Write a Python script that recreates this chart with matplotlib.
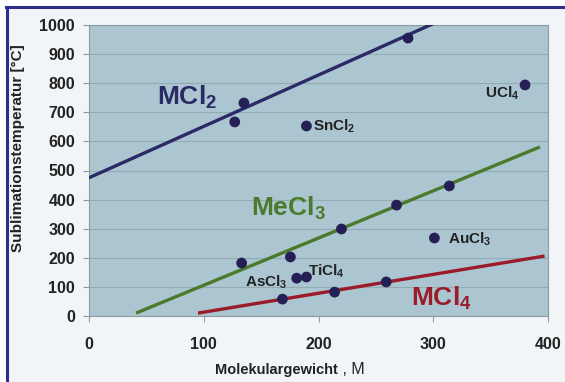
import matplotlib
matplotlib.use("Agg")
import matplotlib.pyplot as plt
from matplotlib.lines import Line2D
from matplotlib.patches import Rectangle

plt.rcParams['font.family'] = ['Liberation Sans', 'DejaVu Sans']
plt.rcParams['mathtext.fontset'] = 'custom'
plt.rcParams['mathtext.rm'] = 'Liberation Sans:bold'
plt.rcParams['mathtext.bf'] = 'Liberation Sans:bold'
plt.rcParams['mathtext.it'] = 'Liberation Sans:bold'
plt.rcParams['mathtext.default'] = 'bf'

# ---- data ----
mcl2_x = [127, 135, 278]
mcl2_y = [667, 732, 955]
mecl3_x = [133, 175.5, 181, 189.5, 220, 268, 314]
mecl3_y = [182, 203, 130, 134, 299, 381, 447]
mcl4_x = [168.6, 214, 259]
mcl4_y = [58, 82, 117]
other_x = [189.5, 380, 301]
other_y = [653, 794, 268]

# fitted trend lines (end points)
mcl2_line_x = [0, 303]
mcl2_line_y = [475, 1010]
mecl3_line_x = [41, 393]
mecl3_line_y = [10, 581]
mcl4_line_x = [95, 397]
mcl4_line_y = [10, 206]

xticks = [0, 100, 200, 300, 400]
yticks = [0, 100, 200, 300, 400, 500, 600, 700, 800, 900, 1000]

# small labels: (text, x, y, ha)
small_labels = [
    ("SnCl$_2$", 195, 653, "left"),
    ("UCl$_4$", 345, 765, "left"),
    ("AuCl$_3$", 313, 262, "left"),
    ("TiCl$_4$", 191, 155, "left"),
    ("AsCl$_3$", 136, 115, "left"),
]
big_labels = [
    ("MCl$_2$", 59, 752, "#2b2a66"),
    ("MeCl$_3$", 141, 371, "#4b7a2c"),
    ("MCl$_4$", 281, 62, "#9b1b2b"),
]

W, H = 565, 382
fig = plt.figure(figsize=(W / 100, H / 100), dpi=100, facecolor="#f1f5f8")
ax = fig.add_axes([89 / W, 1 - 316 / H, (548 - 89) / W, (316 - 25) / H])
ax.set_facecolor("#abc6d0")

ax.set_xlim(0, 400)
ax.set_ylim(0, 1000)
ax.set_xticks(xticks)
ax.set_yticks(yticks)
ax.grid(axis="y", color="#93aab4", lw=0.8)
ax.set_axisbelow(True)
for s in ax.spines.values():
    s.set_color("#8d9ba2")
    s.set_linewidth(0.8)
ax.tick_params(axis="x", length=4, pad=11, color="#8d9ba2", labelsize=11.5)
ax.tick_params(axis="y", length=4, pad=6, color="#8d9ba2", labelsize=11.5)
for lab in ax.get_xticklabels() + ax.get_yticklabels():
    lab.set_fontweight("bold")
    lab.set_color("#222222")

ax.plot(mcl2_line_x, mcl2_line_y, color="#2b2a66", lw=2.4, solid_capstyle="butt", zorder=3)
ax.plot(mecl3_line_x, mecl3_line_y, color="#4b7a2c", lw=2.4, solid_capstyle="butt", zorder=3)
ax.plot(mcl4_line_x, mcl4_line_y, color="#9b1b2b", lw=2.4, solid_capstyle="butt", zorder=3)

pc = "#251f55"
for xs, ys in [(mcl2_x, mcl2_y), (mecl3_x, mecl3_y), (mcl4_x, mcl4_y), (other_x, other_y)]:
    ax.scatter(xs, ys, s=60, color=pc, zorder=4, edgecolors="none")

for t, x, y, ha in small_labels:
    ax.text(x, y, t, ha=ha, va="center", fontsize=11, fontweight="bold", color="#222222", zorder=5)
for t, x, y, c in big_labels:
    ax.text(x, y, t, ha="left", va="center", fontsize=19, fontweight="bold", color=c, zorder=5)

fig.text(18 / W, 1 - 148 / H, "Sublimationstemperatur [°C]", rotation=90, ha="center",
         va="center", fontsize=11, fontweight="bold", color="#222222")
fig.text(338 / W, 1 - 370 / H, "Molekulargewicht", ha="right", va="center",
         fontsize=10.5, fontweight="bold", color="#222222")
fig.text(338 / W, 1 - 370 / H, " , M", ha="left", va="center",
         fontsize=11.5, color="#222222")

# white strip left of border and border lines
fig.patches.append(Rectangle((0, 0), 6 / W, 1, transform=fig.transFigure, color="white", zorder=0))
fig.patches.append(Rectangle((0, 1 - 6 / H), 1, 6 / H, transform=fig.transFigure, color="white", zorder=0))
fig.lines.append(Line2D([7 / W, 7 / W], [0, 1 - 7 / H], transform=fig.transFigure, color="#2e2e8c", lw=2.2))
fig.lines.append(Line2D([6 / W, 1], [1 - 7 / H, 1 - 7 / H], transform=fig.transFigure, color="#2e2e8c", lw=2.2))

fig.savefig("out.png", dpi=100, facecolor=fig.get_facecolor())
